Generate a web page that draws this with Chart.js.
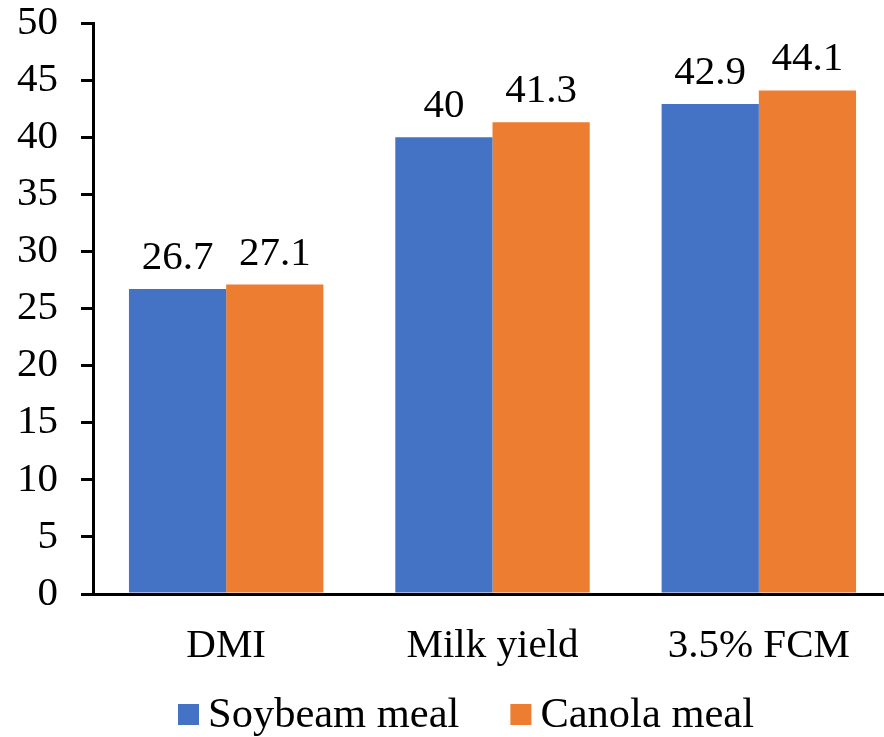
<!DOCTYPE html>
<html>
<head>
<meta charset="utf-8">
<script src="https://cdn.jsdelivr.net/npm/chart.js@4.4.1/dist/chart.umd.min.js"></script>
<style>
  html, body { margin: 0; padding: 0; background: #ffffff; overflow: hidden; }
  #wrap { width: 892px; height: 737px; }
</style>
</head>
<body>
<div id="wrap"><canvas id="c" width="892" height="737"></canvas></div>
<script>
const categories = ['DMI', 'Milk yield', '3.5% FCM'];
const soybeanMeal = [26.7, 40, 42.9];
const canolaMeal = [27.1, 41.3, 44.1];
const seriesNames = ['Soybeam meal', 'Canola meal'];
const seriesColors = ['#4472C4', '#ED7D31'];
const yTicks = [0, 5, 10, 15, 20, 25, 30, 35, 40, 45, 50];

const FONT = '"Liberation Serif", "Times New Roman", serif';
const FS = 41;
const LEGEND_FS = 42.5;

// Value labels above each bar
const valueLabels = {
  id: 'valueLabels',
  afterDatasetsDraw(chart) {
    const ctx = chart.ctx;
    ctx.save();
    ctx.font = FS + 'px ' + FONT;
    ctx.fillStyle = '#000';
    ctx.textAlign = 'center';
    ctx.textBaseline = 'alphabetic';
    chart.data.datasets.forEach((ds, i) => {
      chart.getDatasetMeta(i).data.forEach((bar, j) => {
        ctx.fillText(String(ds.data[j]), bar.x, bar.y - 20);
      });
    });
    ctx.restore();
  }
};

// Legend row under the axis
const bottomLegend = {
  id: 'bottomLegend',
  afterDraw(chart) {
    const ctx = chart.ctx;
    ctx.save();
    ctx.font = LEGEND_FS + 'px ' + FONT;
    ctx.textBaseline = 'alphabetic';
    ctx.textAlign = 'left';
    const box = 21, gapText = 9, gapItem = 51;
    let x = 178;
    const boxTop = 704, base = 727;
    chart.data.datasets.forEach(ds => {
      ctx.fillStyle = ds.backgroundColor;
      ctx.fillRect(x, boxTop, box, box);
      ctx.fillStyle = '#000';
      ctx.fillText(ds.label, x + box + gapText, base);
      x += box + gapText + ctx.measureText(ds.label).width + gapItem;
    });
    ctx.restore();
  }
};

new Chart(document.getElementById('c'), {
  type: 'bar',
  data: {
    labels: categories,
    datasets: [
      { label: seriesNames[0], data: soybeanMeal, backgroundColor: seriesColors[0] },
      { label: seriesNames[1], data: canolaMeal, backgroundColor: seriesColors[1] }
    ]
  },
  options: {
    responsive: false,
    animation: false,
    devicePixelRatio: 1,
    layout: { padding: { top: 23, left: 0, right: 0, bottom: 63 } },
    datasets: { bar: { categoryPercentage: 0.73, barPercentage: 1.0 } },
    plugins: { legend: { display: false }, tooltip: { enabled: false } },
    scales: {
      x: {
        afterFit(scale) { scale.height = 80; scale.paddingLeft = 0; scale.paddingRight = 0; },
        grid: { display: true, drawOnChartArea: false, drawTicks: false },
        border: { display: true, color: '#000', width: 3 },
        ticks: { color: '#000', font: { family: FONT, size: FS }, padding: 28, maxRotation: 0 }
      },
      y: {
        min: 0, max: 50,
        afterFit(scale) { scale.width = 93; scale.paddingTop = 0; scale.paddingBottom = 0; },
        afterBuildTicks(scale) { scale.ticks = yTicks.map(v => ({ value: v })); },
        grid: { display: true, drawOnChartArea: false, drawTicks: true, tickLength: 12, color: '#000', lineWidth: 3 },
        border: { display: true, color: '#000', width: 3 },
        ticks: { color: '#000', font: { family: FONT, size: FS }, padding: 23 }
      }
    }
  },
  plugins: [valueLabels, bottomLegend]
});
</script>
</body>
</html>
